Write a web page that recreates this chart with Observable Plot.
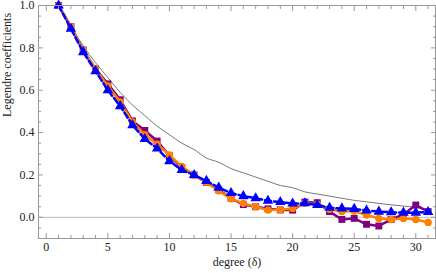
<!DOCTYPE html>
<html><head><meta charset="utf-8">
<script src="https://cdn.jsdelivr.net/npm/d3@7"></script>
<script src="https://cdn.jsdelivr.net/npm/@observablehq/plot@0.6"></script>
<style>html,body{margin:0;padding:0;background:#fff}</style>
</head><body><div id="chart"></div>
<script>
const degrees = [1,2,3,4,5,6,7,8,9,10,11,12,13,14,15,16,17,18,19,20,21,22,23,24,25,26,27,28,29,30,31];
const purpleSeries = [1.0,0.90,0.79,0.70,0.63,0.555,0.455,0.41,0.36,0.29,0.235,0.20,0.165,0.13,0.09,0.06,0.05,0.04,0.035,0.034,0.072,0.069,0.027,-0.01,-0.005,-0.033,-0.041,-0.01,0.013,0.058,0.027];
const orangeSeries = [1.0,0.90,0.79,0.70,0.62,0.545,0.45,0.39,0.345,0.294,0.24,0.20,0.165,0.125,0.088,0.066,0.05,0.034,0.036,0.042,0.066,0.062,0.038,0.027,0.03,0.011,-0.005,-0.01,-0.005,-0.01,-0.024];
const blueSeries = [1.0,0.89,0.78,0.69,0.60,0.525,0.435,0.37,0.325,0.265,0.223,0.20,0.172,0.14,0.115,0.10,0.09,0.078,0.072,0.065,0.066,0.058,0.045,0.042,0.04,0.032,0.027,0.024,0.022,0.022,0.025];
const refDegrees = [1,2,3,4,5,6,7,8,9,10,11,12,13,14,15,16,17,18,19,20,21,22,23,24,25,26,27,28,29,30];
const refCurve = [1.0,0.90,0.81,0.73,0.66,0.59,0.53,0.48,0.43,0.39,0.35,0.32,0.28,0.26,0.23,0.21,0.19,0.17,0.15,0.14,0.12,0.11,0.10,0.09,0.08,0.073,0.066,0.059,0.053,0.048];
const xMajor = [0,5,10,15,20,25,30];
const xMinor = [1,2,3,4,6,7,8,9,11,12,13,14,16,17,18,19,21,22,23,24,26,27,28,29,31];
const yMajor = [0.0,0.2,0.4,0.6,0.8,1.0];
const yMinor = [-0.1,-0.05,0.05,0.1,0.15,0.25,0.3,0.35,0.45,0.5,0.55,0.65,0.7,0.75,0.85,0.9,0.95];

const COLORS = {purple:"#7f007f", orange:"#ff8000", blue:"#0000ff"};
const toRows = (xs, vs) => vs.map((v, i) => ({d: xs[i], v}));
const purple = toRows(degrees, purpleSeries);
const orange = toRows(degrees, orangeSeries);
const blue = toRows(degrees, blueSeries);
const ref = toRows(refDegrees, refCurve);

const FONT = "'Liberation Serif', 'DejaVu Serif', serif";
const frameStroke = "#999";
const textFill = "#222";
const fmtY = d3.format(".1f");

const chart = Plot.plot({
  width: 436, height: 273,
  marginLeft: 38, marginRight: 1, marginTop: 5, marginBottom: 35,
  style: {fontFamily: FONT, fontSize: "12px", background: "#fff", overflow: "visible"},
  x: {domain: [-0.63, 31.6]},
  y: {domain: [-0.1, 1.0]},
  marks: [
    Plot.ruleY([0], {stroke: "#bbb", strokeWidth: 1}),
    Plot.line(ref, {x: "d", y: "v", stroke: "#555", strokeWidth: 0.8, curve: "monotone-x"}),
    Plot.line(purple, {x: "d", y: "v", stroke: COLORS.purple, strokeWidth: 2.5}),
    Plot.dot(purple, {x: "d", y: "v", symbol: "square", fill: COLORS.purple, r: 3.9}),
    Plot.line(orange, {x: "d", y: "v", stroke: COLORS.orange, strokeWidth: 2.5}),
    Plot.dot(orange, {x: "d", y: "v", symbol: "circle", fill: COLORS.orange, r: 3.7}),
    Plot.line(blue, {x: "d", y: "v", stroke: COLORS.blue, strokeWidth: 2.5, strokeDasharray: "6,3"}),
    Plot.dot(blue, {x: "d", y: "v", symbol: "triangle", fill: COLORS.blue, r: 3.9}),
    Plot.frame({stroke: frameStroke}),
    // inward ticks, all four sides
    Plot.axisX({anchor: "bottom", ticks: xMajor, tickSize: -5, fill: "none", label: null, stroke: frameStroke}),
    Plot.axisX({anchor: "bottom", ticks: xMinor, tickSize: -3, fill: "none", label: null, stroke: frameStroke}),
    Plot.axisX({anchor: "top", ticks: xMajor, tickSize: -5, fill: "none", label: null, stroke: frameStroke}),
    Plot.axisX({anchor: "top", ticks: xMinor, tickSize: -3, fill: "none", label: null, stroke: frameStroke}),
    Plot.axisY({anchor: "left", ticks: yMajor, tickSize: -5, fill: "none", label: null, stroke: frameStroke}),
    Plot.axisY({anchor: "left", ticks: yMinor, tickSize: -3, fill: "none", label: null, stroke: frameStroke}),
    Plot.axisY({anchor: "right", ticks: yMajor, tickSize: -5, fill: "none", label: null, stroke: frameStroke}),
    Plot.axisY({anchor: "right", ticks: yMinor, tickSize: -3, fill: "none", label: null, stroke: frameStroke}),
    // tick labels
    Plot.axisX({anchor: "bottom", ticks: xMajor, tickSize: 0, tickPadding: 4, label: null, fill: textFill, fontFamily: FONT, fontSize: 12, tickFormat: d => String(d)}),
    Plot.axisY({anchor: "left", ticks: yMajor, tickSize: 0, tickPadding: 4, label: null, fill: textFill, fontFamily: FONT, fontSize: 12, tickFormat: fmtY}),
    // axis titles
    Plot.text(["degree (δ)"], {text: d => d, frameAnchor: "bottom", dy: 27, fill: textFill, fontFamily: FONT, fontSize: 12}),
    Plot.text(["Legendre coefficients"], {text: d => d, frameAnchor: "left", rotate: -90, dx: -31, dy: -5, fill: textFill, fontFamily: FONT, fontSize: 12})
  ]
});
document.getElementById("chart").appendChild(chart);
</script>
</body></html>
